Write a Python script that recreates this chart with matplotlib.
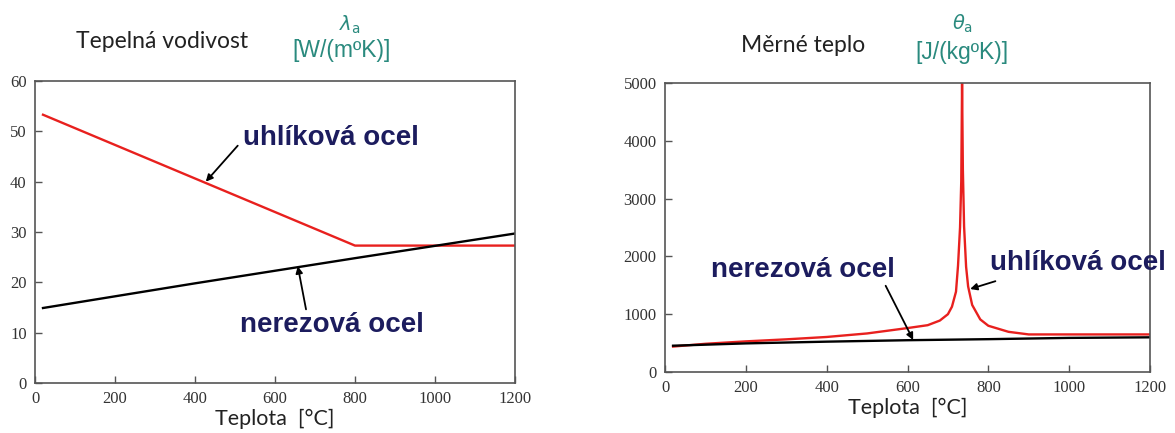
import matplotlib
matplotlib.use("Agg")
import matplotlib.pyplot as plt

# tepelna vodivost [W/(m K)]
lam_carbon_t = [20, 800, 1200]
lam_carbon = [53.3, 27.3, 27.3]
lam_stainless_t = [20, 400, 800, 1200]
lam_stainless = [14.9, 19.8, 24.8, 29.7]

# merne teplo [J/(kg K)]
c_carbon_t = [20, 100, 200, 300, 400, 500, 600, 650, 680, 700, 710, 720, 725,
              730, 733, 735, 737, 740, 745, 750, 760, 780, 800, 850, 900, 1200]
c_carbon = [440, 488, 530, 565, 606, 667, 760, 810, 890, 1000, 1130, 1390, 1840,
            2500, 3300, 5000, 3500, 2520, 1820, 1480, 1160, 910, 800, 695, 650, 650]
c_stainless_t = [20, 200, 400, 600, 800, 1000, 1200]
c_stainless = [455, 495, 525, 550, 568, 590, 600]

x_ticks = [0, 200, 400, 600, 800, 1000, 1200]

W, H = 1175, 433
navy = "#1c1c5e"
teal = "#2a8a7e"
red = "#e8201e"


def fx(x):
    return x / W


def fy(y):
    return 1 - y / H


def style_axes(ax):
    for s in ax.spines.values():
        s.set_color("#555555")
        s.set_linewidth(1.2)
    ax.tick_params(direction="in", length=5, width=1, color="#555555",
                   labelcolor="#333333", pad=6)
    for lab in ax.get_xticklabels() + ax.get_yticklabels():
        lab.set_family("Liberation Serif")
        lab.set_fontsize(12)


fig = plt.figure(figsize=(W / 100, H / 100), dpi=100)

# left: tepelna vodivost
ax1 = fig.add_axes([fx(35), fy(383), fx(480), 302 / H])
ax1.plot(lam_carbon_t, lam_carbon, color=red, lw=1.7)
ax1.plot(lam_stainless_t, lam_stainless, color="black", lw=1.7)
ax1.set_xlim(0, 1200)
ax1.set_ylim(0, 60)
ax1.set_xticks(x_ticks)
ax1.set_yticks([0, 10, 20, 30, 40, 50, 60])
style_axes(ax1)
ax1.set_xlabel("Teplota  [°C]", family="Lato", fontsize=15.5, color="#222222", labelpad=1)

ax1.annotate("uhlíková ocel", xy=(427, 40.0), xytext=(520, 48.7),
             fontsize=20, fontweight="bold", family="Liberation Sans", color=navy,
             ha="left", va="center",
             arrowprops=dict(arrowstyle="-|>", color="black", lw=1.3,
                             mutation_scale=10, shrinkA=0, shrinkB=0,
                             relpos=(-0.03, 0.2)))
ax1.annotate("nerezová ocel", xy=(657, 23.2), xytext=(742, 11.5),
             fontsize=20, fontweight="bold", family="Liberation Sans", color=navy,
             ha="center", va="center",
             arrowprops=dict(arrowstyle="-|>", color="black", lw=1.3,
                             mutation_scale=10, shrinkA=0, shrinkB=0,
                             relpos=(0.36, 1.1)))

fig.text(fx(76), fy(42), "Tepelná vodivost", family="Lato", fontsize=16.5,
         color="#222222", ha="left", va="center")
fig.text(fx(350), fy(25), r"$\lambda_{\rm a}$", fontsize=14, color=teal,
         ha="center", va="center")
fig.text(fx(342), fy(51), "[W/(mºK)]", family="Liberation Sans", fontsize=16.5,
         color=teal, ha="center", va="center")

# right: merne teplo
ax2 = fig.add_axes([fx(665), fy(372), fx(485), 289 / H])
ax2.plot(c_carbon_t, c_carbon, color=red, lw=1.7)
ax2.plot(c_stainless_t, c_stainless, color="black", lw=1.7)
ax2.set_xlim(0, 1200)
ax2.set_ylim(0, 5000)
ax2.set_xticks(x_ticks)
ax2.set_yticks([0, 1000, 2000, 3000, 4000, 5000])
style_axes(ax2)
ax2.set_xlabel("Teplota  [°C]", family="Lato", fontsize=15.5, color="#222222", labelpad=1)

ax2.annotate("nerezová ocel", xy=(614, 554), xytext=(341, 1765),
             fontsize=20, fontweight="bold", family="Liberation Sans", color=navy,
             ha="center", va="center",
             arrowprops=dict(arrowstyle="-|>", color="black", lw=1.3,
                             mutation_scale=10, shrinkA=0, shrinkB=0,
                             relpos=(0.95, -0.1)))
ax2.annotate("uhlíková ocel", xy=(755, 1436), xytext=(1022, 1886),
             fontsize=20, fontweight="bold", family="Liberation Sans", color=navy,
             ha="center", va="center", annotation_clip=False,
             arrowprops=dict(arrowstyle="-|>", color="black", lw=1.3,
                             mutation_scale=10, shrinkA=0, shrinkB=0,
                             relpos=(0.03, -0.2)))

fig.text(fx(741), fy(45), "Měrné teplo", family="Lato", fontsize=16.5,
         color="#222222", ha="left", va="center")
fig.text(fx(963), fy(24), r"$\theta_{\rm a}$", fontsize=14, color=teal,
         ha="center", va="center")
fig.text(fx(962), fy(52), "[J/(kgºK)]", family="Liberation Sans", fontsize=16.5,
         color=teal, ha="center", va="center")

fig.savefig("out.png", dpi=100)
